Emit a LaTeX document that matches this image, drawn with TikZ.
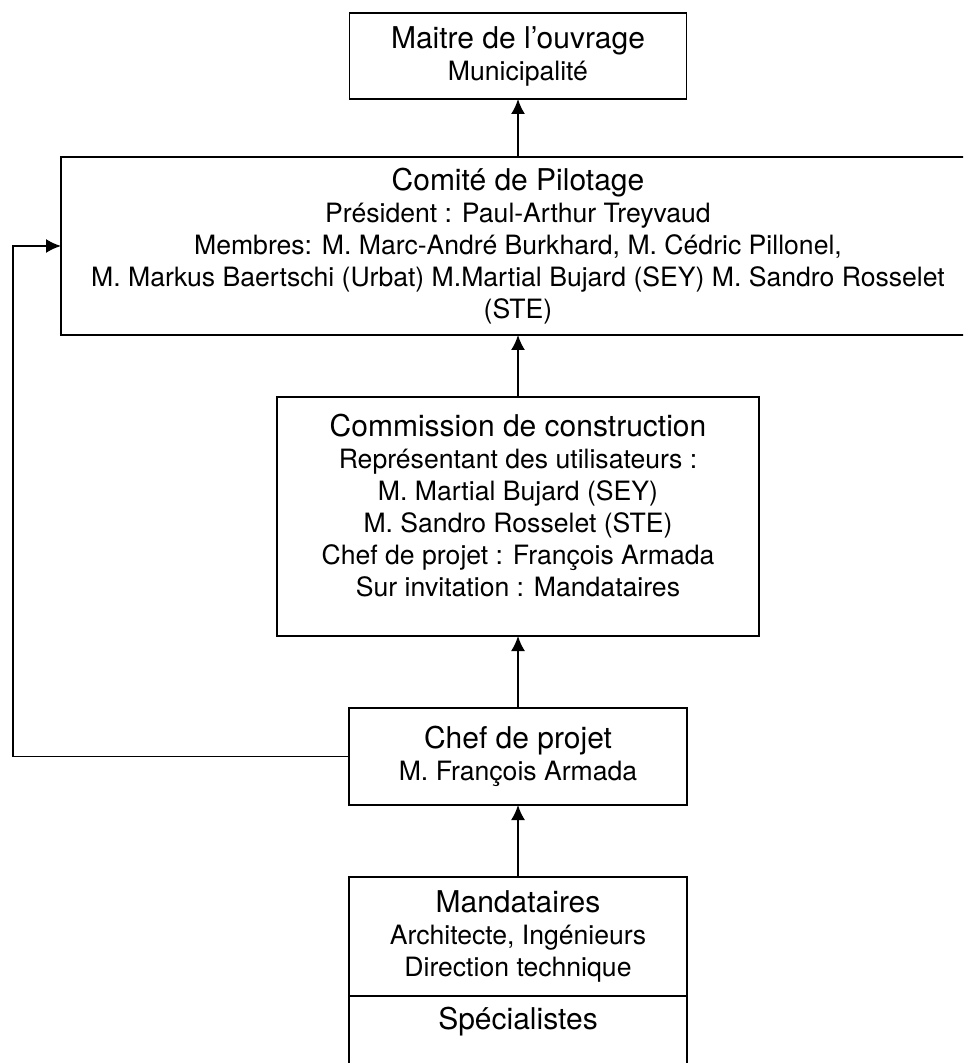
\documentclass[tikz,border=0pt]{standalone}
\usepackage{fontspec}
\setmainfont{TeX Gyre Heros}
\usetikzlibrary{arrows.meta}
\newcommand{\titre}[1]{{\fontsize{15}{18}\selectfont #1}}

\begin{document}
\begin{tikzpicture}[x=0.5pt, y=-0.5pt, >={Latex[length=7.5pt,width=7pt]}, line width=0.9pt,
	boite/.style={draw, rectangle, align=center, inner sep=0pt, outer sep=0pt, font=\fontsize{13.3}{16}\selectfont}]
	\useasboundingbox (0,0) rectangle (963,1063);
	\clip (0,0) rectangle (963,1063);
	
	\node[boite, minimum width=168.5pt, minimum height=43pt] (maitre) at (518,56)
		{\titre{Maitre de l’ouvrage}\\ Municipalité};
	\node[boite, minimum width=457pt, minimum height=89pt] (comite) at (518,246)
		{\titre{Comité de Pilotage}\\ Président : Paul-Arthur Treyvaud\\
		Membres: M. Marc-André Burkhard, M. Cédric Pillonel,\\
		M. Markus Baertschi (Urbat) M.Martial Bujard (SEY) M. Sandro Rosselet\\ (STE)};
	\node[boite, minimum width=241pt, minimum height=119.5pt] (commission) at (518,516.5)
		{\titre{Commission de construction}\\ Représentant des utilisateurs :\\
		M. Martial Bujard (SEY)\\ M. Sandro Rosselet (STE)\\
		Chef de projet : François Armada\\ Sur invitation : Mandataires\\[-5pt]\mbox{}};
	\node[boite, minimum width=169pt, minimum height=48.5pt] (chef) at (518,756.5)
		{\titre{Chef de projet}\\ M. François Armada};
	\node[boite, minimum width=169pt, minimum height=59.5pt] (mandataires) at (518,936.5)
		{\titre{Mandataires}\\ Architecte, Ingénieurs\\ Direction technique};
	\node[boite, anchor=north, minimum width=169pt, inner ysep=6.5pt,
		text height=10pt, text depth=30pt] (specialistes) at (mandataires.south)
		{\titre{Spécialistes}};
	
	\coordinate (coin) at (13,0);
	
	\draw[->] (comite) -- (maitre);
	\draw[->] (commission) -- (comite);
	\draw[->] (chef) -- (commission);
	\draw[->] (mandataires) -- (chef);
	\draw[->] (chef.west) -- (chef.west -| coin) |- (comite.west);
	
\end{tikzpicture}
\end{document}
